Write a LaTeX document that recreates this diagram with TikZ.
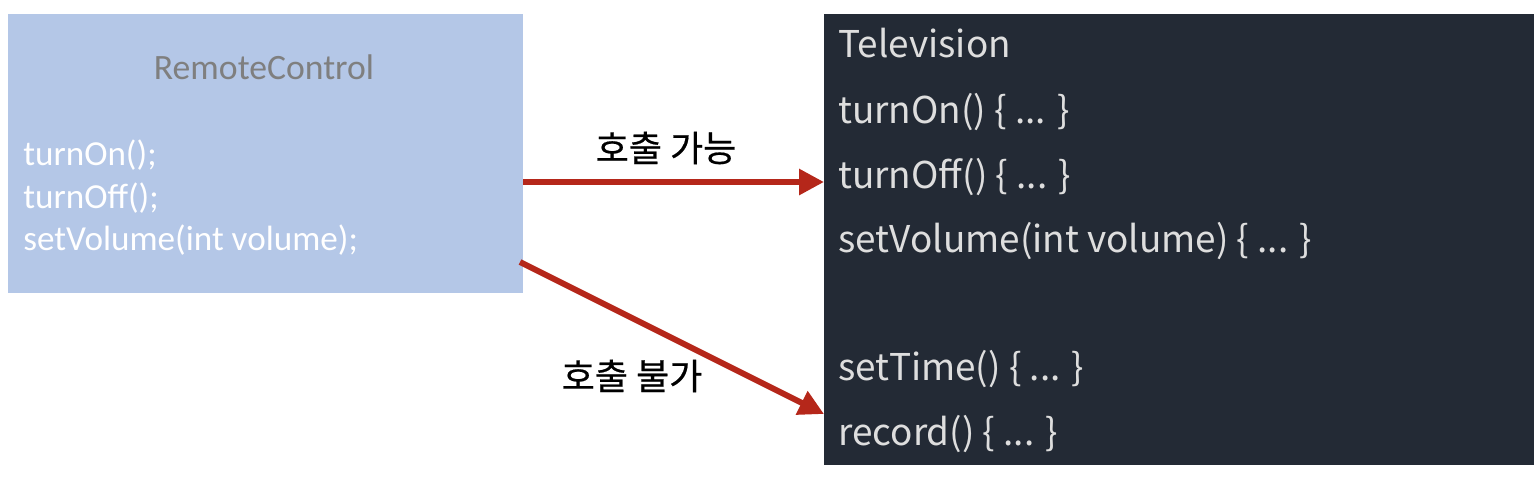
\documentclass[tikz,border=0pt]{standalone}
\usepackage{fontspec}
\setmainfont{Carlito}
\newfontfamily\kfont{Noto Sans CJK KR}
\newfontfamily\klabelfont[FakeBold=0.5]{Noto Sans CJK KR}
\usepackage{tikz}
\usetikzlibrary{arrows.meta}
\definecolor{rcblue}{HTML}{B4C7E7}
\definecolor{rcgray}{HTML}{7F7F7F}
\definecolor{tvdark}{HTML}{232A35}
\definecolor{tvtext}{HTML}{DEDEDE}
\definecolor{cred}{HTML}{B5271A}
\tikzset{>={Triangle[length=0.5cm,width=0.5cm]},
  call/.style={->,cred,line width=0.12cm,shorten >=0pt},
  rcline/.style={white,anchor=base west,inner sep=0,font=\fontsize{20}{24}\selectfont},
  tvline/.style={tvtext,anchor=base west,inner sep=0,font=\kfont\fontsize{21}{25}\selectfont},
  klabel/.style={black,inner sep=0,font=\klabelfont\fontsize{20.5}{24}\selectfont}}

\begin{document}
\begin{tikzpicture}[x=0.02cm,y=-0.02cm]
\useasboundingbox (0,0) rectangle (1534,478);

% ===== RemoteControl =====
\node[fill=rcblue,anchor=north west,inner sep=0,minimum width=10.3cm,minimum height=5.58cm] (remote) at (8,14) {};
\node[rcgray,anchor=base,inner sep=0,font=\fontsize{20.3}{24}\selectfont] (rctitle) at (264,79) {RemoteControl};
\node[rcline] (rcon) at (23,165) {turnOn();};
\node[rcline] (rcoff) at (23,208) {turnOff();};
\node[rcline] (rcvol) at (23,250) {setVolume(int volume);};

% ===== Television =====
\node[fill=tvdark,anchor=north west,inner sep=0,minimum width=14.2cm,minimum height=9.02cm] (tv) at (824,14) {};
\node[tvline] (tvtitle) at (838,57) {Television};
\node[tvline] (tvon) at (838,123) {turnOn() \{ ... \}};
\node[tvline] (tvoff) at (838,188) {turnOff() \{ ... \}};
\node[tvline] (tvvol) at (838,252) {setVolume(int volume) \{ ... \}};
\node[tvline] (tvtime) at (838,380) {setTime() \{ ... \}};
\node[tvline] (tvrec) at (838,445) {record() \{ ... \}};

% ===== calls =====
\coordinate (okfrom) at (523,182);
\coordinate (okto) at (824,182);
\coordinate (nofrom) at (520,262);
\coordinate (noto) at (824,414);
\draw[call] (okfrom) -- (okto);
\draw[call] (nofrom) -- (noto);
\node[klabel] (oklabel) at (666,148) {호출 가능};
\node[klabel] (nolabel) at (632,376) {호출 불가};

\end{tikzpicture}
\end{document}
